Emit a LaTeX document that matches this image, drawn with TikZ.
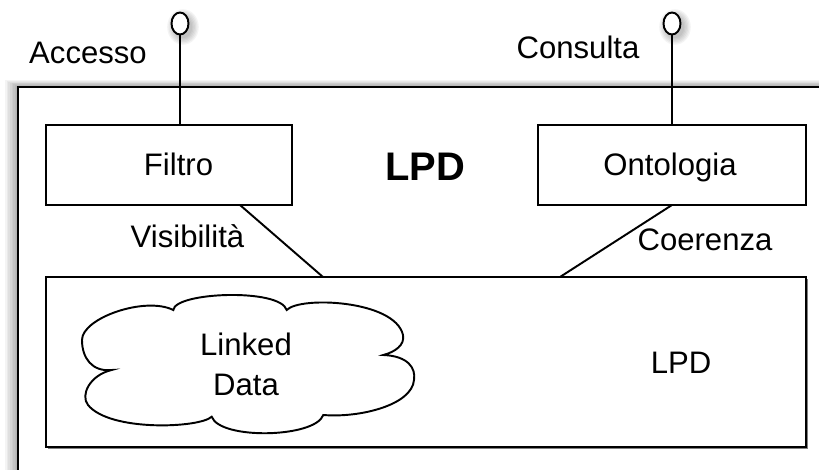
\documentclass[tikz,border=0pt]{standalone}
\usepackage{fontspec}
\setmainfont{Liberation Sans}
\usetikzlibrary{shapes.geometric,calc}
\begin{document}
\begin{tikzpicture}[x=0.02cm,y=-0.02cm,
  box/.style={draw,line width=1.1pt,fill=white,inner sep=0pt,outer sep=0pt,rectangle},
  txt/.style={font=\fontsize{17.7}{22.7}\selectfont,inner sep=0pt,anchor=base},
  wire/.style={line width=1.1pt},
  port/.style={draw,line width=1.1pt,fill=white,ellipse,inner sep=0pt,outer sep=0pt,minimum width=0.34cm,minimum height=0.44cm},
  blur/.style={fill=black,opacity=0.045},
  cloudline/.style={draw,line width=1.1pt,fill=white,line join=miter}
]
\useasboundingbox (0,0) rectangle (819,470);
\clip (0,0) rectangle (819,470);
% shadow of the outer box
\foreach \i in {1,...,8}
  \fill[blur] (18-1.6*\i,87-0.9*\i) rectangle (840,490);
\node[box,anchor=north west,minimum width=16.44cm,minimum height=8.1cm] (outer) at (18,87) {};
% shadows of the ports
\foreach \i in {1,...,6}{
  \fill[blur] (183,27) ellipse [x radius=8+1.3*\i, y radius=10+1.3*\i];
  \fill[blur] (675,27) ellipse [x radius=8+1.3*\i, y radius=10+1.3*\i];
}
% boxes
\node[box,minimum width=4.92cm,minimum height=1.6cm] (filtro) at (169,165) {};
\node[box,minimum width=5.36cm,minimum height=1.6cm] (ontologia) at (672,165) {};
\draw[gray,line width=1pt] (807.5,279) -- (807.5,448.5) -- (48,448.5);
\node[box,minimum width=15.2cm,minimum height=3.4cm] (lpd) at (426,362) {};
% cloud
\draw[cloudline] (111.7,370)
  .. controls (92,372) and (82,358) .. (82,340)
  .. controls (82,318) and (145,296) .. (173.3,310)
  .. controls (175,292) and (280,288) .. (286.7,310)
  .. controls (300,296) and (395,300) .. (403,335)
  .. controls (405,345) and (395,352) .. (383.3,355)
  .. controls (408,356) and (416,368) .. (414,380)
  .. controls (412,405) and (360,418) .. (323.3,415)
  .. controls (315,438) and (220,440) .. (211.7,416.7)
  .. controls (200,428) and (110,432) .. (88,405)
  .. controls (80,395) and (90,375) .. cycle;
% ports
\node[port] (acc) at (180,23.5) {};
\node[port] (cons) at (672,23.5) {};
\draw[wire] (acc.south) -- (acc.south |- filtro.north);
\draw[wire] (cons.south) -- (cons.south |- ontologia.north);
% connectors
\draw[wire] ([xshift=1.42cm]filtro.south) -- ([xshift=-2.06cm]lpd.north);
\draw[wire] (ontologia.south) -- ([xshift=2.68cm]lpd.north);
% texts
\node[txt] (taccesso) at (88,63) {Accesso};
\node[txt] (tconsulta) at (578,58) {Consulta};
\node[txt] (tfiltro) at (178.5,175) {Filtro};
\node[txt] (tontologia) at (670,175) {Ontologia};
\node[txt,font=\fontsize{22.7}{26}\selectfont\bfseries] (tlpdtitle) at (425,180) {LPD};
\node[txt] (tvisib) at (187.5,247) {Visibilità};
\node[txt] (tcoer) at (705,250) {Coerenza};
\node[txt] (tlpd) at (681,373) {LPD};
\node[txt,align=center] (tlinked) at (246,395) {Linked\\Data};
\end{tikzpicture}
\end{document}
